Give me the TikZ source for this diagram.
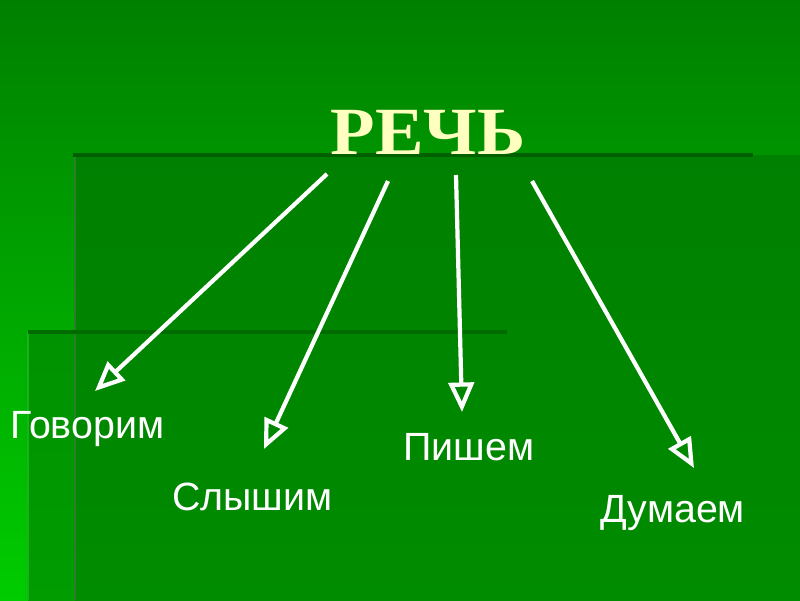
\documentclass[tikz,border=0pt]{standalone}
\usepackage{fontspec}
\setmainfont{Liberation Sans}
\newfontfamily\titlefont{Liberation Serif}
\usetikzlibrary{arrows.meta}

\definecolor{bgtop}{HTML}{008000}
\definecolor{bgbot}{HTML}{00CC00}
\definecolor{panetop}{HTML}{008000}
\definecolor{panebot}{HTML}{008C00}
\definecolor{striptop}{HTML}{009200}
\definecolor{stripbot}{HTML}{009C00}
\definecolor{rulea}{HTML}{005F00}
\definecolor{ruleb}{HTML}{006C00}
\definecolor{paneedge}{HTML}{2A7F2A}
\definecolor{titlecol}{HTML}{FFFFC0}

\begin{document}
\begin{tikzpicture}[x=0.025cm,y=-0.025cm,
  word/.style={text=white,font=\fontsize{28}{30}\selectfont,inner sep=0pt,anchor=base west},
  arr/.style={draw=white,line width=3pt,-{Triangle[open,length=21pt,width=18pt]}}]
\useasboundingbox (0,0) rectangle (800,600);
% background
\shade[top color=bgtop,bottom color=bgbot] (0,0) rectangle (800,600);
\shade[top color=striptop,bottom color=stripbot] (28,332) rectangle (75,600);
\shade[top color=panetop,bottom color=panebot] (75,155) rectangle (800,600);
\draw[line width=1pt,paneedge] (75,155) -- (75,600);
\draw[line width=0.8pt,paneedge!60!green] (28,332) -- (28,600);
\draw[line width=2.8pt,rulea] (73,155) -- (753,155);
\draw[line width=2.2pt,ruleb] (28,332) -- (507,332);

% title and words
\node[text=titlecol,font=\titlefont\bfseries\fontsize{48}{50}\selectfont,inner sep=0pt,anchor=base] (speech) at (428,154) {\scalebox{1.08}[1]{РЕЧЬ}};
\node[word] (govorim) at (10,438) {Говорим};
\node[word] (slyshim) at (172,510) {Слышим};
\node[word] (pishem) at (403,460) {Пишем};
\node[word] (dumaem) at (600,522) {Думаем};

% arrow ends
\coordinate (s1) at (327,174);
\coordinate (s2) at (388,181);
\coordinate (s3) at (456,175);
\coordinate (s4) at (532,181);
\coordinate (t1) at (95,391);
\coordinate (t2) at (264,449);
\coordinate (t3) at (462,412);
\coordinate (t4) at (694,468);
\draw[arr] (s1) -- (t1);
\draw[arr] (s2) -- (t2);
\draw[arr] (s3) -- (t3);
\draw[arr] (s4) -- (t4);
\end{tikzpicture}
\end{document}
